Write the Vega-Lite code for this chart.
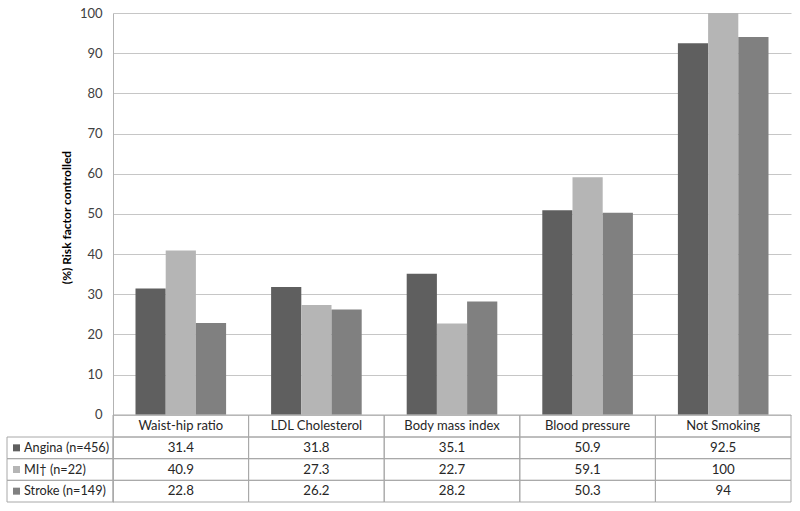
{
  "$schema": "https://vega.github.io/schema/vega-lite/v6.json",
  "width": 678,
  "height": 489,
  "autosize": {"type": "none"},
  "padding": {"left": 113, "top": 13, "right": 9, "bottom": 9},
  "background": "white",
  "config": {"view": {"stroke": null}, "font": "Lato", "text": {"font": "Lato"}},
  "datasets": {
    "main": [
      {"category": "Waist-hip ratio", "series": "Angina (n=456)", "value": 31.4},
      {"category": "Waist-hip ratio", "series": "MI† (n=22)", "value": 40.9},
      {"category": "Waist-hip ratio", "series": "Stroke (n=149)", "value": 22.8},
      {"category": "LDL Cholesterol", "series": "Angina (n=456)", "value": 31.8},
      {"category": "LDL Cholesterol", "series": "MI† (n=22)", "value": 27.3},
      {"category": "LDL Cholesterol", "series": "Stroke (n=149)", "value": 26.2},
      {"category": "Body mass index", "series": "Angina (n=456)", "value": 35.1},
      {"category": "Body mass index", "series": "MI† (n=22)", "value": 22.7},
      {"category": "Body mass index", "series": "Stroke (n=149)", "value": 28.2},
      {"category": "Blood pressure", "series": "Angina (n=456)", "value": 50.9},
      {"category": "Blood pressure", "series": "MI† (n=22)", "value": 59.1},
      {"category": "Blood pressure", "series": "Stroke (n=149)", "value": 50.3},
      {"category": "Not Smoking", "series": "Angina (n=456)", "value": 92.5},
      {"category": "Not Smoking", "series": "MI† (n=22)", "value": 100},
      {"category": "Not Smoking", "series": "Stroke (n=149)", "value": 94}
    ],
    "series": [
      {"series": "Angina (n=456)"},
      {"series": "MI† (n=22)"},
      {"series": "Stroke (n=149)"}
    ],
    "cats": [
      {"category": "Waist-hip ratio"},
      {"category": "LDL Cholesterol"},
      {"category": "Body mass index"},
      {"category": "Blood pressure"},
      {"category": "Not Smoking"}
    ]
  },
  "layer": [
    {
      "data": {"name": "main"},
      "mark": {"type": "bar"},
      "encoding": {
        "x": {"field": "category", "type": "nominal", "axis": null,
              "scale": {"domain": ["Waist-hip ratio", "LDL Cholesterol", "Body mass index", "Blood pressure", "Not Smoking"], "paddingInner": 0, "paddingOuter": 0}},
        "xOffset": {"field": "series", "type": "nominal",
              "scale": {"domain": ["Angina (n=456)", "MI† (n=22)", "Stroke (n=149)"], "paddingInner": 0, "paddingOuter": 0.745}},
        "y": {"field": "value", "type": "quantitative",
              "scale": {"domain": [-21.73, 100], "nice": false, "zero": true},
              "axis": {"values": [0, 10, 20, 30, 40, 50, 60, 70, 80, 90, 100], "grid": true, "gridColor": "#c6c6c6",
                       "domainColor": "#b3b3b3", "ticks": false, "labelPadding": 11, "labelFontSize": 13, "labelColor": "#404040",
                       "title": "(%) Risk factor controlled", "titleFontSize": 12, "titleFontWeight": "bold", "titleColor": "#000000",
                       "titleX": -47, "titleY": 204, "titleAlign": "center", "titleBaseline": "middle", "titleAngle": -90}},
        "color": {"field": "series", "type": "nominal", "legend": null,
                  "scale": {"domain": ["Angina (n=456)", "MI† (n=22)", "Stroke (n=149)"], "range": ["#5f5f5f", "#b5b5b5", "#808080"]}}
      }
    },
    {
      "data": {"name": "main"},
      "mark": {"type": "rect", "fill": "white", "fillOpacity": 0, "stroke": "#a8a8a8", "strokeWidth": 1},
      "encoding": {
        "x": {"field": "category", "type": "nominal", "axis": null,
              "scale": {"domain": ["Waist-hip ratio", "LDL Cholesterol", "Body mass index", "Blood pressure", "Not Smoking"], "paddingInner": 0, "paddingOuter": 0}},
        "y": {"field": "series", "type": "nominal", "axis": null,
              "scale": {"domain": ["Angina (n=456)", "MI† (n=22)", "Stroke (n=149)"], "range": [424, 489], "paddingInner": 0, "paddingOuter": 0}}
      }
    },
    {
      "data": {"name": "main"},
      "mark": {"type": "text", "fontSize": 13.3, "color": "#262626", "baseline": "middle", "align": "center"},
      "encoding": {
        "x": {"field": "category", "type": "nominal", "axis": null,
              "scale": {"type": "band", "domain": ["Waist-hip ratio", "LDL Cholesterol", "Body mass index", "Blood pressure", "Not Smoking"], "paddingInner": 0, "paddingOuter": 0}},
        "y": {"field": "series", "type": "nominal", "axis": null,
              "scale": {"type": "band", "domain": ["Angina (n=456)", "MI† (n=22)", "Stroke (n=149)"], "range": [424, 489], "paddingInner": 0, "paddingOuter": 0}},
        "text": {"field": "value", "type": "quantitative"}
      }
    },
    {
      "data": {"name": "cats"},
      "mark": {"type": "rect", "fill": "white", "fillOpacity": 0, "stroke": "#a8a8a8", "strokeWidth": 1},
      "encoding": {
        "x": {"field": "category", "type": "nominal", "axis": null,
              "scale": {"domain": ["Waist-hip ratio", "LDL Cholesterol", "Body mass index", "Blood pressure", "Not Smoking"], "paddingInner": 0, "paddingOuter": 0}},
        "y": {"datum": "header", "type": "nominal", "axis": null,
              "scale": {"domain": ["header"], "range": [402, 424], "paddingInner": 0, "paddingOuter": 0}}
      }
    },
    {
      "data": {"name": "cats"},
      "mark": {"type": "text", "fontSize": 13, "color": "#262626", "baseline": "middle", "align": "center"},
      "encoding": {
        "x": {"field": "category", "type": "nominal", "axis": null,
              "scale": {"type": "band", "domain": ["Waist-hip ratio", "LDL Cholesterol", "Body mass index", "Blood pressure", "Not Smoking"], "paddingInner": 0, "paddingOuter": 0}},
        "y": {"datum": "header", "type": "nominal", "axis": null,
              "scale": {"type": "band", "domain": ["header"], "range": [402, 424], "paddingInner": 0, "paddingOuter": 0}},
        "text": {"field": "category", "type": "nominal"}
      }
    },
    {
      "data": {"name": "series"},
      "mark": {"type": "rect", "fill": "white", "fillOpacity": 0, "stroke": "#a8a8a8", "strokeWidth": 1},
      "encoding": {
        "x": {"datum": "labels", "type": "nominal", "axis": null,
              "scale": {"type": "band", "domain": ["labels"], "range": [-106, 0], "paddingInner": 0, "paddingOuter": 0}},
        "y": {"field": "series", "type": "nominal", "axis": null,
              "scale": {"domain": ["Angina (n=456)", "MI† (n=22)", "Stroke (n=149)"], "range": [424, 489], "paddingInner": 0, "paddingOuter": 0}}
      }
    },
    {
      "data": {"name": "series"},
      "mark": {"type": "point", "shape": "square", "filled": true, "size": 49, "opacity": 1},
      "encoding": {
        "x": {"datum": "labels", "type": "nominal", "axis": null,
              "scale": {"type": "band", "domain": ["labels"], "range": [-100, -93], "paddingInner": 0, "paddingOuter": 0}},
        "y": {"field": "series", "type": "nominal", "axis": null,
              "scale": {"type": "band", "domain": ["Angina (n=456)", "MI† (n=22)", "Stroke (n=149)"], "range": [424, 489], "paddingInner": 0, "paddingOuter": 0}},
        "color": {"field": "series", "type": "nominal", "legend": null,
                  "scale": {"domain": ["Angina (n=456)", "MI† (n=22)", "Stroke (n=149)"], "range": ["#5f5f5f", "#b5b5b5", "#808080"]}}
      }
    },
    {
      "data": {"name": "series"},
      "mark": {"type": "text", "fontSize": 12.7, "color": "#262626", "baseline": "middle", "align": "left"},
      "encoding": {
        "x": {"datum": "labels", "type": "nominal", "axis": null, "bandPosition": 0,
              "scale": {"type": "band", "domain": ["labels"], "range": [-89, 0], "paddingInner": 0, "paddingOuter": 0}},
        "y": {"field": "series", "type": "nominal", "axis": null,
              "scale": {"type": "band", "domain": ["Angina (n=456)", "MI† (n=22)", "Stroke (n=149)"], "range": [424, 489], "paddingInner": 0, "paddingOuter": 0}},
        "text": {"field": "series", "type": "nominal"}
      }
    }
  ],
  "resolve": {"scale": {"x": "independent", "y": "independent"}}
}
